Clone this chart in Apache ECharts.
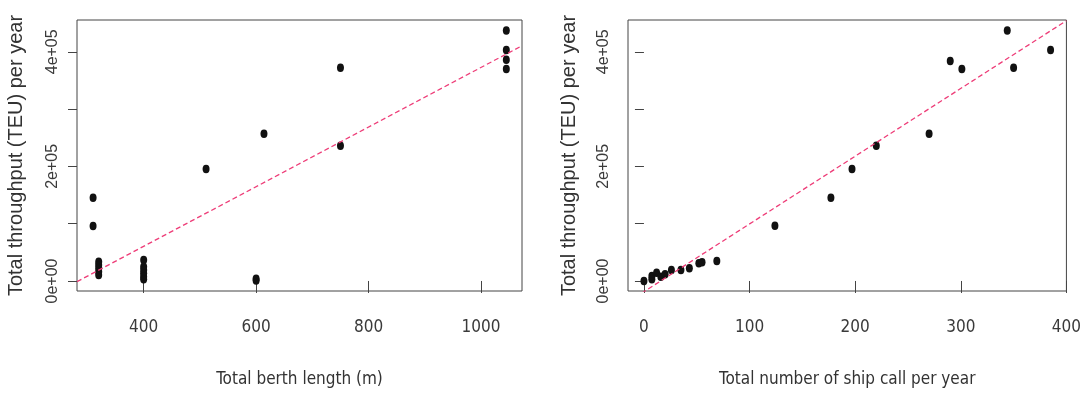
<!DOCTYPE html>
<html>
<head>
<meta charset="utf-8">
<script src="https://cdn.jsdelivr.net/npm/echarts@6/dist/echarts.min.js"></script>
<style>
  html, body { margin: 0; padding: 0; background: #fff; }
  #main { width: 1084px; height: 397px; }
</style>
</head>
<body>
<div id="main"></div>
<script>
// left panel: berth length (m) vs throughput (TEU)
var berthLength = [310, 310, 320, 320, 320, 320, 320, 400, 400, 400, 400, 400, 400,
  511, 600, 600, 614, 750, 750, 1045, 1045, 1045, 1045];
var throughputBerth = [145400, 96000, 33700, 28000, 22000, 16000, 10500, 36600, 25000, 19000, 13400, 7500, 3000,
  195500, 1000, 4000, 257000, 372000, 236000, 437000, 403000, 386000, 370000];

// right panel: ship calls per year vs throughput (TEU)
var shipCalls = [0, 7.5, 7.5, 12, 16, 20, 26, 35, 43, 52, 55, 69, 124,
  177, 197, 220, 270, 290, 301, 344, 350, 385];
var throughputCalls = [0, 8700, 3000, 14500, 7500, 11700, 19000, 19000, 22000, 31000, 32500, 35000, 96500,
  145400, 195500, 236000, 257000, 384000, 370000, 437000, 372000, 403000];

// fitted lines: [intercept, slope]
var fitBerth = [-147600, 520.3];
var fitCalls = [-18700, 1182.5];

var berthTicks = [400, 600, 800, 1000];
var callTicks = [0, 100, 200, 300, 400];
var yTicks = [0, 100000, 200000, 300000, 400000];
var yLabelValues = [0, 200000, 400000];
var yTickLabels = ['0e+00', '2e+05', '4e+05'];

var xRangeBerth = [281.4, 1072.9];
var xRangeCalls = [-15.1, 400];
var yRange = [-17500, 455500];

function pairs(xs, ys) {
  return xs.map(function (x, i) { return [x, ys[i]]; });
}
function fitLine(fit, range) {
  return range.map(function (x) { return [x, fit[0] + fit[1] * x]; });
}

var narrow = "'Liberation Sans Narrow', 'DejaVu Sans Condensed', 'Liberation Sans', Arial, sans-serif";
var sans = "'Liberation Sans', Arial, sans-serif";
var ink = '#3a3a3a';

function xAxisCfg(idx, name, range, ticks) {
  return {
    gridIndex: idx, type: 'value', min: range[0], max: range[1],
    name: name, nameLocation: 'middle', nameGap: 80,
    nameTextStyle: { fontFamily: narrow, fontSize: 17, color: '#333' },
    axisLine: { show: false },
    axisTick: { show: true, inside: false, length: 12, customValues: ticks,
      lineStyle: { color: '#444' } },
    axisLabel: { customValues: ticks, margin: 28, fontFamily: narrow, fontSize: 17, color: ink,
      formatter: function (v) { return String(v); } },
    splitLine: { show: false }
  };
}
function yAxisCfg(idx, gap) {
  return {
    gridIndex: idx, type: 'value', min: yRange[0], max: yRange[1],
    name: 'Total throughput (TEU) per year', nameLocation: 'middle', nameGap: gap,
    nameTextStyle: { fontFamily: sans, fontSize: 20, color: '#333' },
    axisLine: { show: false },
    axisTick: { show: true, inside: false, length: 9, customValues: yTicks,
      lineStyle: { color: '#444' } },
    axisLabel: {
      customValues: yLabelValues, rotate: 90, margin: 16,
      fontFamily: sans, fontSize: 16, color: ink,
      formatter: function (v) { return yTickLabels[yLabelValues.indexOf(v)]; }
    },
    splitLine: { show: false }
  };
}

var pointStyle = { color: '#111', opacity: 1 };
var lineStyle = { color: '#ee3d78', width: 1.3, type: [5, 3] };

var chart = echarts.init(document.getElementById('main'));
chart.setOption({
  animation: false,
  backgroundColor: '#fff',
  grid: [
    { left: 77, right: 562, top: 20, bottom: 106, show: true, borderColor: '#444', borderWidth: 1, backgroundColor: 'transparent' },
    { left: 628, right: 15, top: 20, bottom: 106, show: true, borderColor: '#444', borderWidth: 1, backgroundColor: 'transparent' }
  ],
  xAxis: [
    xAxisCfg(0, 'Total berth length (m)', xRangeBerth, berthTicks),
    xAxisCfg(1, 'Total number of ship call per year', xRangeCalls, callTicks)
  ],
  yAxis: [yAxisCfg(0, 51), yAxisCfg(1, 49)],
  series: [
    { type: 'scatter', xAxisIndex: 0, yAxisIndex: 0, symbol: 'circle', symbolSize: [7, 8.5],
      itemStyle: pointStyle, data: pairs(berthLength, throughputBerth) },
    { type: 'line', xAxisIndex: 0, yAxisIndex: 0, showSymbol: false, clip: true,
      lineStyle: lineStyle, data: fitLine(fitBerth, xRangeBerth) },
    { type: 'scatter', xAxisIndex: 1, yAxisIndex: 1, symbol: 'circle', symbolSize: [7, 8.5],
      itemStyle: pointStyle, data: pairs(shipCalls, throughputCalls) },
    { type: 'line', xAxisIndex: 1, yAxisIndex: 1, showSymbol: false, clip: true,
      lineStyle: lineStyle, data: fitLine(fitCalls, xRangeCalls) }
  ]
});
</script>
</body>
</html>
